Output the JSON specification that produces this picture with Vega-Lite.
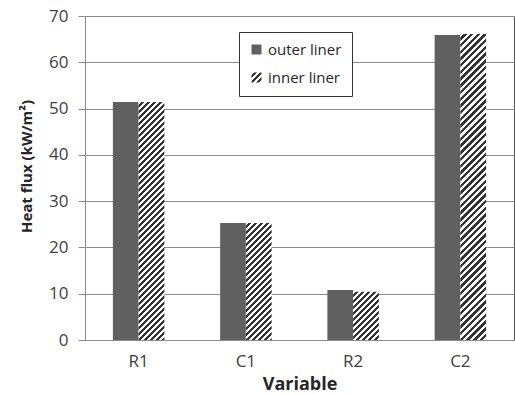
{
"$schema":"https://vega.github.io/schema/vega-lite/v6.json",
"width":429,"height":324,
"autosize":{"type":"none"},
"padding":{"left":85,"top":16,"right":1,"bottom":54},
"background":"white",
"config":{"font":"Open Sans","view":{"stroke":"#555","strokeWidth":1}},
"data":{"values":[
{"variable":"R1","liner":"outer liner","flux":51.4},
{"variable":"R1","liner":"inner liner","flux":51.4},
{"variable":"C1","liner":"outer liner","flux":25.3},
{"variable":"C1","liner":"inner liner","flux":25.3},
{"variable":"R2","liner":"outer liner","flux":10.8},
{"variable":"R2","liner":"inner liner","flux":10.4},
{"variable":"C2","liner":"outer liner","flux":65.9},
{"variable":"C2","liner":"inner liner","flux":66.1}
]},
"encoding":{
"x":{"field":"variable","type":"nominal","sort":["R1","C1","R2","C2"],"scale":{"paddingInner":0.52,"paddingOuter":0.26},
"axis":{"title":"Variable","labelAngle":0,"ticks":false,"tickSize":0,"domainColor":"#8c8c8c","labelFontSize":17,"labelColor":"#404040","labelPadding":13,"titleFontSize":18,"titleFontWeight":"bold","titleColor":"#262626","titlePadding":6}},
"xOffset":{"field":"liner","type":"nominal","scale":{"domain":["outer liner","inner liner"]}},
"y":{"field":"flux","type":"quantitative","scale":{"domain":[0,70],"nice":false},
"axis":{"title":"Heat flux (kW/m²)","values":[0,10,20,30,40,50,60,70],"grid":true,"gridColor":"#8c8c8c","domainColor":"#8c8c8c","tickColor":"#8c8c8c","tickSize":7,"labelFontSize":17,"labelColor":"#404040","labelPadding":10,"titleFontSize":15,"titleFontWeight":"bold","titleColor":"#262626","titlePadding":14,"titleY":150}}
},
"layer":[
{"transform":[{"filter":"datum.liner==='outer liner'"}],
"mark":{"type":"bar"},
"encoding":{"color":{"field":"liner","type":"nominal","sort":null,
"scale":{"domain":["outer liner","inner liner"],"range":["#606060",{"expr":"{gradient:'linear',x1:0,y1:0,x2:1.2,y2:1.2,stops:[{offset:0,color:'#fff'},{offset:0.125,color:'#fff'},{offset:0.125,color:'#333'},{offset:0.25,color:'#333'},{offset:0.25,color:'#fff'},{offset:0.375,color:'#fff'},{offset:0.375,color:'#333'},{offset:0.5,color:'#333'},{offset:0.5,color:'#fff'},{offset:0.625,color:'#fff'},{offset:0.625,color:'#333'},{offset:0.75,color:'#333'},{offset:0.75,color:'#fff'},{offset:0.875,color:'#fff'},{offset:0.875,color:'#333'},{offset:1,color:'#333'}]}"}]},
"legend":{"orient":"none","legendX":154,"legendY":16,"title":null,"padding":10,"strokeColor":"#333","fillColor":"white","symbolType":"square","symbolSize":100,"symbolStrokeWidth":0,"labelFontSize":15,"labelColor":"#262626","labelOffset":4,"rowPadding":12,"cornerRadius":0}}}},
{"transform":[{"filter":"datum.liner==='inner liner' && datum.variable==='R1'"}],
"mark":{"type":"bar","fill":{"gradient":"linear","x1":0,"y1":0,"x2":0.1349,"y2":1.2464,"stops":[
{"offset":0,"color":"#fff"},{"offset":0.01,"color":"#fff"},{"offset":0.01,"color":"#333"},{"offset":0.02,"color":"#333"},
{"offset":0.02,"color":"#fff"},{"offset":0.03,"color":"#fff"},{"offset":0.03,"color":"#333"},{"offset":0.04,"color":"#333"},
{"offset":0.04,"color":"#fff"},{"offset":0.05,"color":"#fff"},{"offset":0.05,"color":"#333"},{"offset":0.06,"color":"#333"},
{"offset":0.06,"color":"#fff"},{"offset":0.07,"color":"#fff"},{"offset":0.07,"color":"#333"},{"offset":0.08,"color":"#333"},
{"offset":0.08,"color":"#fff"},{"offset":0.09,"color":"#fff"},{"offset":0.09,"color":"#333"},{"offset":0.1,"color":"#333"},
{"offset":0.1,"color":"#fff"},{"offset":0.11,"color":"#fff"},{"offset":0.11,"color":"#333"},{"offset":0.12,"color":"#333"},
{"offset":0.12,"color":"#fff"},{"offset":0.13,"color":"#fff"},{"offset":0.13,"color":"#333"},{"offset":0.14,"color":"#333"},
{"offset":0.14,"color":"#fff"},{"offset":0.15,"color":"#fff"},{"offset":0.15,"color":"#333"},{"offset":0.16,"color":"#333"},
{"offset":0.16,"color":"#fff"},{"offset":0.17,"color":"#fff"},{"offset":0.17,"color":"#333"},{"offset":0.18,"color":"#333"},
{"offset":0.18,"color":"#fff"},{"offset":0.19,"color":"#fff"},{"offset":0.19,"color":"#333"},{"offset":0.2,"color":"#333"},
{"offset":0.2,"color":"#fff"},{"offset":0.21,"color":"#fff"},{"offset":0.21,"color":"#333"},{"offset":0.22,"color":"#333"},
{"offset":0.22,"color":"#fff"},{"offset":0.23,"color":"#fff"},{"offset":0.23,"color":"#333"},{"offset":0.24,"color":"#333"},
{"offset":0.24,"color":"#fff"},{"offset":0.25,"color":"#fff"},{"offset":0.25,"color":"#333"},{"offset":0.26,"color":"#333"},
{"offset":0.26,"color":"#fff"},{"offset":0.27,"color":"#fff"},{"offset":0.27,"color":"#333"},{"offset":0.28,"color":"#333"},
{"offset":0.28,"color":"#fff"},{"offset":0.29,"color":"#fff"},{"offset":0.29,"color":"#333"},{"offset":0.3,"color":"#333"},
{"offset":0.3,"color":"#fff"},{"offset":0.31,"color":"#fff"},{"offset":0.31,"color":"#333"},{"offset":0.32,"color":"#333"},
{"offset":0.32,"color":"#fff"},{"offset":0.33,"color":"#fff"},{"offset":0.33,"color":"#333"},{"offset":0.34,"color":"#333"},
{"offset":0.34,"color":"#fff"},{"offset":0.35,"color":"#fff"},{"offset":0.35,"color":"#333"},{"offset":0.36,"color":"#333"},
{"offset":0.36,"color":"#fff"},{"offset":0.37,"color":"#fff"},{"offset":0.37,"color":"#333"},{"offset":0.38,"color":"#333"},
{"offset":0.38,"color":"#fff"},{"offset":0.39,"color":"#fff"},{"offset":0.39,"color":"#333"},{"offset":0.4,"color":"#333"},
{"offset":0.4,"color":"#fff"},{"offset":0.41,"color":"#fff"},{"offset":0.41,"color":"#333"},{"offset":0.42,"color":"#333"},
{"offset":0.42,"color":"#fff"},{"offset":0.43,"color":"#fff"},{"offset":0.43,"color":"#333"},{"offset":0.44,"color":"#333"},
{"offset":0.44,"color":"#fff"},{"offset":0.45,"color":"#fff"},{"offset":0.45,"color":"#333"},{"offset":0.46,"color":"#333"},
{"offset":0.46,"color":"#fff"},{"offset":0.47,"color":"#fff"},{"offset":0.47,"color":"#333"},{"offset":0.48,"color":"#333"},
{"offset":0.48,"color":"#fff"},{"offset":0.49,"color":"#fff"},{"offset":0.49,"color":"#333"},{"offset":0.5,"color":"#333"},
{"offset":0.5,"color":"#fff"},{"offset":0.51,"color":"#fff"},{"offset":0.51,"color":"#333"},{"offset":0.52,"color":"#333"},
{"offset":0.52,"color":"#fff"},{"offset":0.53,"color":"#fff"},{"offset":0.53,"color":"#333"},{"offset":0.54,"color":"#333"},
{"offset":0.54,"color":"#fff"},{"offset":0.55,"color":"#fff"},{"offset":0.55,"color":"#333"},{"offset":0.56,"color":"#333"},
{"offset":0.56,"color":"#fff"},{"offset":0.57,"color":"#fff"},{"offset":0.57,"color":"#333"},{"offset":0.58,"color":"#333"},
{"offset":0.58,"color":"#fff"},{"offset":0.59,"color":"#fff"},{"offset":0.59,"color":"#333"},{"offset":0.6,"color":"#333"},
{"offset":0.6,"color":"#fff"},{"offset":0.61,"color":"#fff"},{"offset":0.61,"color":"#333"},{"offset":0.62,"color":"#333"},
{"offset":0.62,"color":"#fff"},{"offset":0.63,"color":"#fff"},{"offset":0.63,"color":"#333"},{"offset":0.64,"color":"#333"},
{"offset":0.64,"color":"#fff"},{"offset":0.65,"color":"#fff"},{"offset":0.65,"color":"#333"},{"offset":0.66,"color":"#333"},
{"offset":0.66,"color":"#fff"},{"offset":0.67,"color":"#fff"},{"offset":0.67,"color":"#333"},{"offset":0.68,"color":"#333"},
{"offset":0.68,"color":"#fff"},{"offset":0.69,"color":"#fff"},{"offset":0.69,"color":"#333"},{"offset":0.7,"color":"#333"},
{"offset":0.7,"color":"#fff"},{"offset":0.71,"color":"#fff"},{"offset":0.71,"color":"#333"},{"offset":0.72,"color":"#333"},
{"offset":0.72,"color":"#fff"},{"offset":0.73,"color":"#fff"},{"offset":0.73,"color":"#333"},{"offset":0.74,"color":"#333"},
{"offset":0.74,"color":"#fff"},{"offset":0.75,"color":"#fff"},{"offset":0.75,"color":"#333"},{"offset":0.76,"color":"#333"},
{"offset":0.76,"color":"#fff"},{"offset":0.77,"color":"#fff"},{"offset":0.77,"color":"#333"},{"offset":0.78,"color":"#333"},
{"offset":0.78,"color":"#fff"},{"offset":0.79,"color":"#fff"},{"offset":0.79,"color":"#333"},{"offset":0.8,"color":"#333"},
{"offset":0.8,"color":"#fff"},{"offset":0.81,"color":"#fff"},{"offset":0.81,"color":"#333"},{"offset":0.82,"color":"#333"},
{"offset":0.82,"color":"#fff"},{"offset":0.83,"color":"#fff"},{"offset":0.83,"color":"#333"},{"offset":0.84,"color":"#333"},
{"offset":0.84,"color":"#fff"},{"offset":0.85,"color":"#fff"},{"offset":0.85,"color":"#333"},{"offset":0.86,"color":"#333"},
{"offset":0.86,"color":"#fff"},{"offset":0.87,"color":"#fff"},{"offset":0.87,"color":"#333"},{"offset":0.88,"color":"#333"},
{"offset":0.88,"color":"#fff"},{"offset":0.89,"color":"#fff"},{"offset":0.89,"color":"#333"},{"offset":0.9,"color":"#333"}]}}},
{"transform":[{"filter":"datum.liner==='inner liner' && datum.variable==='C1'"}],
"mark":{"type":"bar","fill":{"gradient":"linear","x1":0,"y1":0,"x2":0.5372,"y2":2.4438,"stops":[
{"offset":0,"color":"#fff"},{"offset":0.01,"color":"#fff"},{"offset":0.01,"color":"#333"},{"offset":0.02,"color":"#333"},
{"offset":0.02,"color":"#fff"},{"offset":0.03,"color":"#fff"},{"offset":0.03,"color":"#333"},{"offset":0.04,"color":"#333"},
{"offset":0.04,"color":"#fff"},{"offset":0.05,"color":"#fff"},{"offset":0.05,"color":"#333"},{"offset":0.06,"color":"#333"},
{"offset":0.06,"color":"#fff"},{"offset":0.07,"color":"#fff"},{"offset":0.07,"color":"#333"},{"offset":0.08,"color":"#333"},
{"offset":0.08,"color":"#fff"},{"offset":0.09,"color":"#fff"},{"offset":0.09,"color":"#333"},{"offset":0.1,"color":"#333"},
{"offset":0.1,"color":"#fff"},{"offset":0.11,"color":"#fff"},{"offset":0.11,"color":"#333"},{"offset":0.12,"color":"#333"},
{"offset":0.12,"color":"#fff"},{"offset":0.13,"color":"#fff"},{"offset":0.13,"color":"#333"},{"offset":0.14,"color":"#333"},
{"offset":0.14,"color":"#fff"},{"offset":0.15,"color":"#fff"},{"offset":0.15,"color":"#333"},{"offset":0.16,"color":"#333"},
{"offset":0.16,"color":"#fff"},{"offset":0.17,"color":"#fff"},{"offset":0.17,"color":"#333"},{"offset":0.18,"color":"#333"},
{"offset":0.18,"color":"#fff"},{"offset":0.19,"color":"#fff"},{"offset":0.19,"color":"#333"},{"offset":0.2,"color":"#333"},
{"offset":0.2,"color":"#fff"},{"offset":0.21,"color":"#fff"},{"offset":0.21,"color":"#333"},{"offset":0.22,"color":"#333"},
{"offset":0.22,"color":"#fff"},{"offset":0.23,"color":"#fff"},{"offset":0.23,"color":"#333"},{"offset":0.24,"color":"#333"},
{"offset":0.24,"color":"#fff"},{"offset":0.25,"color":"#fff"},{"offset":0.25,"color":"#333"},{"offset":0.26,"color":"#333"},
{"offset":0.26,"color":"#fff"},{"offset":0.27,"color":"#fff"},{"offset":0.27,"color":"#333"},{"offset":0.28,"color":"#333"},
{"offset":0.28,"color":"#fff"},{"offset":0.29,"color":"#fff"},{"offset":0.29,"color":"#333"},{"offset":0.3,"color":"#333"},
{"offset":0.3,"color":"#fff"},{"offset":0.31,"color":"#fff"},{"offset":0.31,"color":"#333"},{"offset":0.32,"color":"#333"},
{"offset":0.32,"color":"#fff"},{"offset":0.33,"color":"#fff"},{"offset":0.33,"color":"#333"},{"offset":0.34,"color":"#333"},
{"offset":0.34,"color":"#fff"},{"offset":0.35,"color":"#fff"},{"offset":0.35,"color":"#333"},{"offset":0.36,"color":"#333"},
{"offset":0.36,"color":"#fff"},{"offset":0.37,"color":"#fff"},{"offset":0.37,"color":"#333"},{"offset":0.38,"color":"#333"},
{"offset":0.38,"color":"#fff"},{"offset":0.39,"color":"#fff"},{"offset":0.39,"color":"#333"},{"offset":0.4,"color":"#333"},
{"offset":0.4,"color":"#fff"},{"offset":0.41,"color":"#fff"},{"offset":0.41,"color":"#333"},{"offset":0.42,"color":"#333"},
{"offset":0.42,"color":"#fff"},{"offset":0.43,"color":"#fff"},{"offset":0.43,"color":"#333"},{"offset":0.44,"color":"#333"},
{"offset":0.44,"color":"#fff"},{"offset":0.45,"color":"#fff"},{"offset":0.45,"color":"#333"},{"offset":0.46,"color":"#333"},
{"offset":0.46,"color":"#fff"},{"offset":0.47,"color":"#fff"},{"offset":0.47,"color":"#333"},{"offset":0.48,"color":"#333"}]}}},
{"transform":[{"filter":"datum.liner==='inner liner' && datum.variable==='R2'"}],
"mark":{"type":"bar","fill":{"gradient":"linear","x1":0,"y1":0,"x2":2.5915,"y2":4.8465,"stops":[
{"offset":0,"color":"#fff"},{"offset":0.01,"color":"#fff"},{"offset":0.01,"color":"#333"},{"offset":0.02,"color":"#333"},
{"offset":0.02,"color":"#fff"},{"offset":0.03,"color":"#fff"},{"offset":0.03,"color":"#333"},{"offset":0.04,"color":"#333"},
{"offset":0.04,"color":"#fff"},{"offset":0.05,"color":"#fff"},{"offset":0.05,"color":"#333"},{"offset":0.06,"color":"#333"},
{"offset":0.06,"color":"#fff"},{"offset":0.07,"color":"#fff"},{"offset":0.07,"color":"#333"},{"offset":0.08,"color":"#333"},
{"offset":0.08,"color":"#fff"},{"offset":0.09,"color":"#fff"},{"offset":0.09,"color":"#333"},{"offset":0.1,"color":"#333"},
{"offset":0.1,"color":"#fff"},{"offset":0.11,"color":"#fff"},{"offset":0.11,"color":"#333"},{"offset":0.12,"color":"#333"},
{"offset":0.12,"color":"#fff"},{"offset":0.13,"color":"#fff"},{"offset":0.13,"color":"#333"},{"offset":0.14,"color":"#333"},
{"offset":0.14,"color":"#fff"},{"offset":0.15,"color":"#fff"},{"offset":0.15,"color":"#333"},{"offset":0.16,"color":"#333"},
{"offset":0.16,"color":"#fff"},{"offset":0.17,"color":"#fff"},{"offset":0.17,"color":"#333"},{"offset":0.18,"color":"#333"},
{"offset":0.18,"color":"#fff"},{"offset":0.19,"color":"#fff"},{"offset":0.19,"color":"#333"},{"offset":0.2,"color":"#333"},
{"offset":0.2,"color":"#fff"},{"offset":0.21,"color":"#fff"},{"offset":0.21,"color":"#333"},{"offset":0.22,"color":"#333"},
{"offset":0.22,"color":"#fff"},{"offset":0.23,"color":"#fff"},{"offset":0.23,"color":"#333"},{"offset":0.24,"color":"#333"},
{"offset":0.24,"color":"#fff"},{"offset":0.25,"color":"#fff"}]}}},
{"transform":[{"filter":"datum.liner==='inner liner' && datum.variable==='C2'"}],
"mark":{"type":"bar","fill":{"gradient":"linear","x1":0,"y1":0,"x2":0.0915,"y2":1.0873,"stops":[
{"offset":0,"color":"#fff"},{"offset":0.01,"color":"#fff"},{"offset":0.01,"color":"#333"},{"offset":0.02,"color":"#333"},
{"offset":0.02,"color":"#fff"},{"offset":0.03,"color":"#fff"},{"offset":0.03,"color":"#333"},{"offset":0.04,"color":"#333"},
{"offset":0.04,"color":"#fff"},{"offset":0.05,"color":"#fff"},{"offset":0.05,"color":"#333"},{"offset":0.06,"color":"#333"},
{"offset":0.06,"color":"#fff"},{"offset":0.07,"color":"#fff"},{"offset":0.07,"color":"#333"},{"offset":0.08,"color":"#333"},
{"offset":0.08,"color":"#fff"},{"offset":0.09,"color":"#fff"},{"offset":0.09,"color":"#333"},{"offset":0.1,"color":"#333"},
{"offset":0.1,"color":"#fff"},{"offset":0.11,"color":"#fff"},{"offset":0.11,"color":"#333"},{"offset":0.12,"color":"#333"},
{"offset":0.12,"color":"#fff"},{"offset":0.13,"color":"#fff"},{"offset":0.13,"color":"#333"},{"offset":0.14,"color":"#333"},
{"offset":0.14,"color":"#fff"},{"offset":0.15,"color":"#fff"},{"offset":0.15,"color":"#333"},{"offset":0.16,"color":"#333"},
{"offset":0.16,"color":"#fff"},{"offset":0.17,"color":"#fff"},{"offset":0.17,"color":"#333"},{"offset":0.18,"color":"#333"},
{"offset":0.18,"color":"#fff"},{"offset":0.19,"color":"#fff"},{"offset":0.19,"color":"#333"},{"offset":0.2,"color":"#333"},
{"offset":0.2,"color":"#fff"},{"offset":0.21,"color":"#fff"},{"offset":0.21,"color":"#333"},{"offset":0.22,"color":"#333"},
{"offset":0.22,"color":"#fff"},{"offset":0.23,"color":"#fff"},{"offset":0.23,"color":"#333"},{"offset":0.24,"color":"#333"},
{"offset":0.24,"color":"#fff"},{"offset":0.25,"color":"#fff"},{"offset":0.25,"color":"#333"},{"offset":0.26,"color":"#333"},
{"offset":0.26,"color":"#fff"},{"offset":0.27,"color":"#fff"},{"offset":0.27,"color":"#333"},{"offset":0.28,"color":"#333"},
{"offset":0.28,"color":"#fff"},{"offset":0.29,"color":"#fff"},{"offset":0.29,"color":"#333"},{"offset":0.3,"color":"#333"},
{"offset":0.3,"color":"#fff"},{"offset":0.31,"color":"#fff"},{"offset":0.31,"color":"#333"},{"offset":0.32,"color":"#333"},
{"offset":0.32,"color":"#fff"},{"offset":0.33,"color":"#fff"},{"offset":0.33,"color":"#333"},{"offset":0.34,"color":"#333"},
{"offset":0.34,"color":"#fff"},{"offset":0.35,"color":"#fff"},{"offset":0.35,"color":"#333"},{"offset":0.36,"color":"#333"},
{"offset":0.36,"color":"#fff"},{"offset":0.37,"color":"#fff"},{"offset":0.37,"color":"#333"},{"offset":0.38,"color":"#333"},
{"offset":0.38,"color":"#fff"},{"offset":0.39,"color":"#fff"},{"offset":0.39,"color":"#333"},{"offset":0.4,"color":"#333"},
{"offset":0.4,"color":"#fff"},{"offset":0.41,"color":"#fff"},{"offset":0.41,"color":"#333"},{"offset":0.42,"color":"#333"},
{"offset":0.42,"color":"#fff"},{"offset":0.43,"color":"#fff"},{"offset":0.43,"color":"#333"},{"offset":0.44,"color":"#333"},
{"offset":0.44,"color":"#fff"},{"offset":0.45,"color":"#fff"},{"offset":0.45,"color":"#333"},{"offset":0.46,"color":"#333"},
{"offset":0.46,"color":"#fff"},{"offset":0.47,"color":"#fff"},{"offset":0.47,"color":"#333"},{"offset":0.48,"color":"#333"},
{"offset":0.48,"color":"#fff"},{"offset":0.49,"color":"#fff"},{"offset":0.49,"color":"#333"},{"offset":0.5,"color":"#333"},
{"offset":0.5,"color":"#fff"},{"offset":0.51,"color":"#fff"},{"offset":0.51,"color":"#333"},{"offset":0.52,"color":"#333"},
{"offset":0.52,"color":"#fff"},{"offset":0.53,"color":"#fff"},{"offset":0.53,"color":"#333"},{"offset":0.54,"color":"#333"},
{"offset":0.54,"color":"#fff"},{"offset":0.55,"color":"#fff"},{"offset":0.55,"color":"#333"},{"offset":0.56,"color":"#333"},
{"offset":0.56,"color":"#fff"},{"offset":0.57,"color":"#fff"},{"offset":0.57,"color":"#333"},{"offset":0.58,"color":"#333"},
{"offset":0.58,"color":"#fff"},{"offset":0.59,"color":"#fff"},{"offset":0.59,"color":"#333"},{"offset":0.6,"color":"#333"},
{"offset":0.6,"color":"#fff"},{"offset":0.61,"color":"#fff"},{"offset":0.61,"color":"#333"},{"offset":0.62,"color":"#333"},
{"offset":0.62,"color":"#fff"},{"offset":0.63,"color":"#fff"},{"offset":0.63,"color":"#333"},{"offset":0.64,"color":"#333"},
{"offset":0.64,"color":"#fff"},{"offset":0.65,"color":"#fff"},{"offset":0.65,"color":"#333"},{"offset":0.66,"color":"#333"},
{"offset":0.66,"color":"#fff"},{"offset":0.67,"color":"#fff"},{"offset":0.67,"color":"#333"},{"offset":0.68,"color":"#333"},
{"offset":0.68,"color":"#fff"},{"offset":0.69,"color":"#fff"},{"offset":0.69,"color":"#333"},{"offset":0.7,"color":"#333"},
{"offset":0.7,"color":"#fff"},{"offset":0.71,"color":"#fff"},{"offset":0.71,"color":"#333"},{"offset":0.72,"color":"#333"},
{"offset":0.72,"color":"#fff"},{"offset":0.73,"color":"#fff"},{"offset":0.73,"color":"#333"},{"offset":0.74,"color":"#333"},
{"offset":0.74,"color":"#fff"},{"offset":0.75,"color":"#fff"},{"offset":0.75,"color":"#333"},{"offset":0.76,"color":"#333"},
{"offset":0.76,"color":"#fff"},{"offset":0.77,"color":"#fff"},{"offset":0.77,"color":"#333"},{"offset":0.78,"color":"#333"},
{"offset":0.78,"color":"#fff"},{"offset":0.79,"color":"#fff"},{"offset":0.79,"color":"#333"},{"offset":0.8,"color":"#333"},
{"offset":0.8,"color":"#fff"},{"offset":0.81,"color":"#fff"},{"offset":0.81,"color":"#333"},{"offset":0.82,"color":"#333"},
{"offset":0.82,"color":"#fff"},{"offset":0.83,"color":"#fff"},{"offset":0.83,"color":"#333"},{"offset":0.84,"color":"#333"},
{"offset":0.84,"color":"#fff"},{"offset":0.85,"color":"#fff"},{"offset":0.85,"color":"#333"},{"offset":0.86,"color":"#333"},
{"offset":0.86,"color":"#fff"},{"offset":0.87,"color":"#fff"},{"offset":0.87,"color":"#333"},{"offset":0.88,"color":"#333"},
{"offset":0.88,"color":"#fff"},{"offset":0.89,"color":"#fff"},{"offset":0.89,"color":"#333"},{"offset":0.9,"color":"#333"},
{"offset":0.9,"color":"#fff"},{"offset":0.91,"color":"#fff"},{"offset":0.91,"color":"#333"},{"offset":0.92,"color":"#333"},
{"offset":0.92,"color":"#fff"},{"offset":0.93,"color":"#fff"},{"offset":0.93,"color":"#333"},{"offset":0.94,"color":"#333"},
{"offset":0.94,"color":"#fff"},{"offset":0.95,"color":"#fff"},{"offset":0.95,"color":"#333"},{"offset":0.96,"color":"#333"},
{"offset":0.96,"color":"#fff"},{"offset":0.97,"color":"#fff"},{"offset":0.97,"color":"#333"},{"offset":0.98,"color":"#333"},
{"offset":0.98,"color":"#fff"},{"offset":0.99,"color":"#fff"},{"offset":0.99,"color":"#333"},{"offset":1,"color":"#333"}]}}}
]
}
